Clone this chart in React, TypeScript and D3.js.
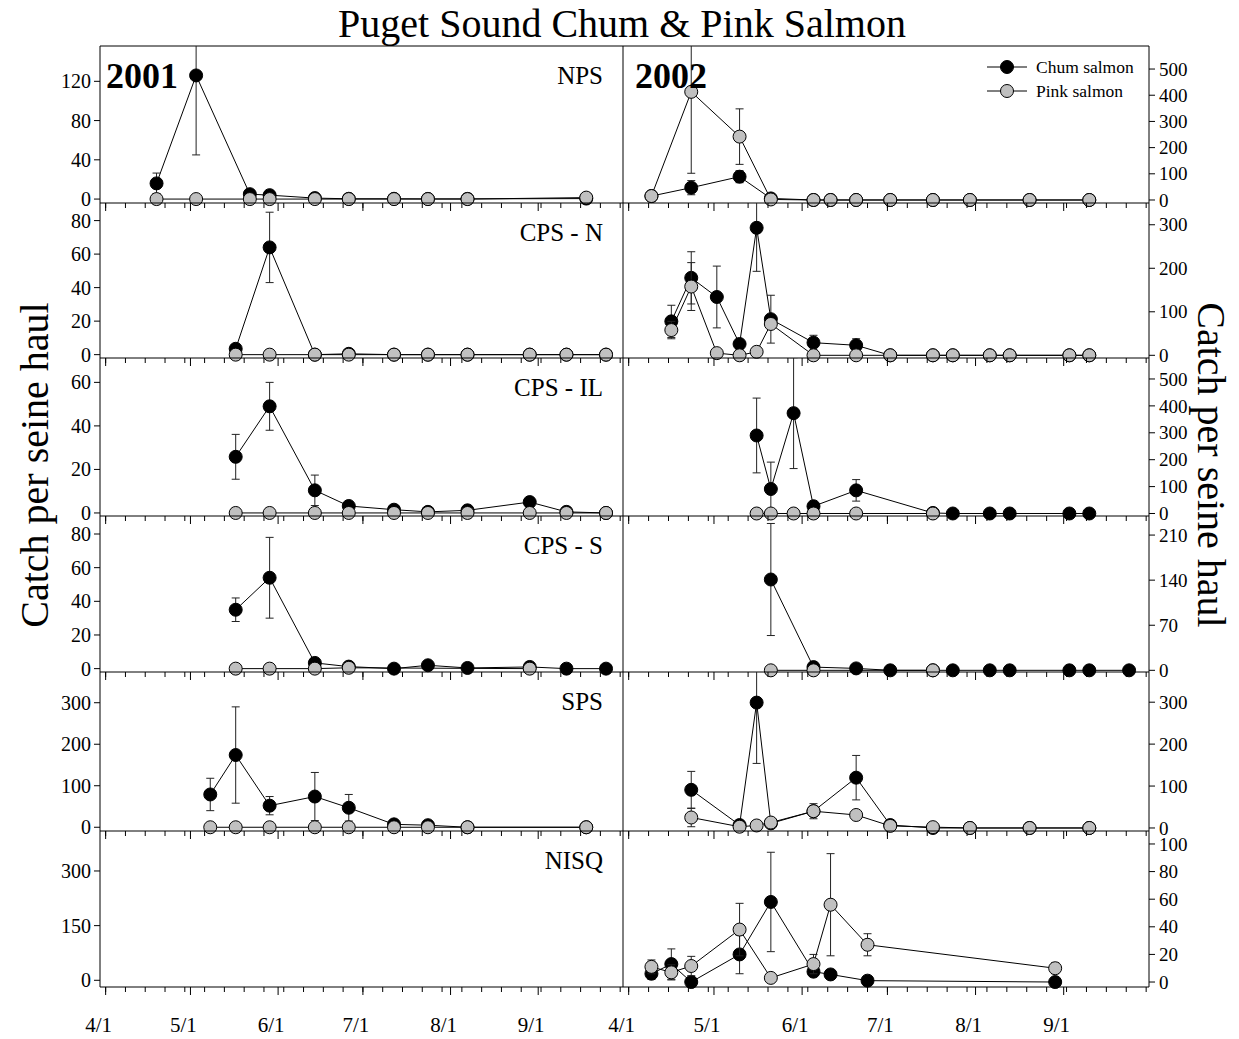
import React from "react";
import * as d3 from "d3";

const FONT = '"Liberation Serif", "Times New Roman", Times, serif';

const titleText = "Puget Sound Chum & Pink Salmon";
const yTitle = "Catch per seine haul";
const regionNames = ["NPS", "CPS - N", "CPS - IL", "CPS - S", "SPS", "NISQ"];
const yearLabels = ["2001", "2002"];
const seriesNames = ["Chum salmon", "Pink salmon"];
const monthTickLabels = ["4/1", "5/1", "6/1", "7/1", "8/1", "9/1"];

const leftTicks = [[0, 40, 80, 120], [0, 20, 40, 60, 80], [0, 20, 40, 60], [0, 20, 40, 60, 80], [0, 100, 200, 300], [0, 150, 300]];
const rightTicks = [[0, 100, 200, 300, 400, 500], [0, 100, 200, 300], [0, 100, 200, 300, 400, 500], [0, 70, 140, 210], [0, 100, 200, 300], [0, 20, 40, 60, 80, 100]];
const leftDomains = [[-4, 156], [-2, 90.5], [-1.4, 71.2], [-2, 90.7], [-9, 374], [-18.4, 409.7]];
const rightDomains = [[-11.5, 588], [-6.2, 350], [-9.3, 578], [-2.6, 239.6], [-7.2, 372], [-3.6, 109.4]];

// ---------- 2001 ----------
const nps01Dates = ["2001-04-19", "2001-05-03", "2001-05-22", "2001-05-29", "2001-06-14", "2001-06-26", "2001-07-12", "2001-07-24", "2001-08-07", "2001-09-18"];
const nps01Chum = [16, 126, 5, 4, 1, 0.3, 0.3, 0.2, 0.2, 0.5];
const nps01ChumSE = [10.5, 81, null, null, null, null, null, null, null, null];
const nps01Pink = [0, 0, 0, 0, 0, 0, 0, 0, 0, 1.5];
const nps01PinkSE = [null, null, null, null, null, null, null, null, null, null];

const cpsn01Dates = ["2001-05-17", "2001-05-29", "2001-06-14", "2001-06-26", "2001-07-12", "2001-07-24", "2001-08-07", "2001-08-29", "2001-09-11", "2001-09-25"];
const cpsn01Chum = [3.5, 64, 0, 0.5, 0, 0, 0, 0, 0, 0];
const cpsn01ChumSE = [null, 21, null, null, null, null, null, null, null, null];
const cpsn01Pink = [0, 0, 0, 0, 0, 0, 0, 0, 0, 0];
const cpsn01PinkSE = [null, null, null, null, null, null, null, null, null, null];

const cpsil01Dates = ["2001-05-17", "2001-05-29", "2001-06-14", "2001-06-26", "2001-07-12", "2001-07-24", "2001-08-07", "2001-08-29", "2001-09-11", "2001-09-25"];
const cpsil01Chum = [25.8, 49, 10.4, 3.2, 1.5, 0.5, 1.2, 5, 0.5, 0];
const cpsil01ChumSE = [10.3, 11, 7, null, null, null, null, null, null, null];
const cpsil01Pink = [0, 0, 0, 0, 0, 0, 0, 0, 0, 0];
const cpsil01PinkSE = [null, null, null, null, null, null, null, null, null, null];

const cpss01Dates = ["2001-05-17", "2001-05-29", "2001-06-14", "2001-06-26", "2001-07-12", "2001-07-24", "2001-08-07", "2001-08-29", "2001-09-11", "2001-09-25"];
const cpss01Chum = [35, 54, 3.4, 1.2, 0, 2, 0.4, 1, 0, 0];
const cpss01ChumSE = [7, 24, null, null, null, null, null, null, null, null];
const cpss01Pink = [0, 0, 0, 0.5, null, null, null, 0, null, null];
const cpss01PinkSE = [null, null, null, null, null, null, null, null, null, null];

const sps01Dates = ["2001-05-08", "2001-05-17", "2001-05-29", "2001-06-14", "2001-06-26", "2001-07-12", "2001-07-24", "2001-08-07", "2001-09-18"];
const sps01Chum = [79, 174, 52, 74, 47, 7, 5, 0, 0];
const sps01ChumSE = [39, 116, 22, 58, 32, null, null, null, null];
const sps01Pink = [0, 0, 0, 0, 0, 0, 0, 0, 0];
const sps01PinkSE = [null, null, null, null, null, null, null, null, null];

const nisq01Dates: string[] = [];
const nisq01Chum: (number | null)[] = [];
const nisq01ChumSE: (number | null)[] = [];
const nisq01Pink: (number | null)[] = [];
const nisq01PinkSE: (number | null)[] = [];

// ---------- 2002 ----------
const nps02Dates = ["2002-04-09", "2002-04-23", "2002-05-10", "2002-05-21", "2002-06-05", "2002-06-11", "2002-06-20", "2002-07-02", "2002-07-17", "2002-07-30", "2002-08-20", "2002-09-10"];
const nps02Chum = [15, 47, 89, 6, 0, 0, 0, 0, 0, 0, 0, 0];
const nps02ChumSE = [null, 27, 23, null, null, null, null, null, null, null, null, null];
const nps02Pink = [15, 413, 242, 2, 0, 0, 0, 0, 0, 0, 0, 0];
const nps02PinkSE = [null, 311, 106, null, null, null, null, null, null, null, null, null];

const cpsn02Dates = ["2002-04-16", "2002-04-23", "2002-05-02", "2002-05-10", "2002-05-16", "2002-05-21", "2002-06-05", "2002-06-20", "2002-07-02", "2002-07-17", "2002-07-24", "2002-08-06", "2002-08-13", "2002-09-03", "2002-09-10"];
const cpsn02Chum = [78, 178, 134, 26, 293, 83, 29, 23, 0, 0, 0, 0, 0, 0, 0];
const cpsn02ChumSE = [37, 60, 71, null, 100, 55, 17, 15, null, null, null, null, null, null, null];
const cpsn02Pink = [58, 158, 5, 0, 8, 72, 0, 0, 0, 0, 0, 0, 0, 0, 0];
const cpsn02PinkSE = [20, 55, null, null, null, null, null, null, null, null, null, null, null, null, null];

const cpsil02Dates = ["2002-05-16", "2002-05-21", "2002-05-29", "2002-06-05", "2002-06-20", "2002-07-17", "2002-07-24", "2002-08-06", "2002-08-13", "2002-09-03", "2002-09-10"];
const cpsil02Chum = [290, 91, 373, 27, 86, 2, 0, 0, 0, 0, 0];
const cpsil02ChumSE = [139, 100, 206, null, 40, null, null, null, null, null, null];
const cpsil02Pink = [0, 0, 0, 0, 0, 0, null, null, null, null, null];
const cpsil02PinkSE = [null, null, null, null, null, null, null, null, null, null, null];

const cpss02Dates = ["2002-05-21", "2002-06-05", "2002-06-20", "2002-07-02", "2002-07-17", "2002-07-24", "2002-08-06", "2002-08-13", "2002-09-03", "2002-09-10", "2002-09-24"];
const cpss02Chum = [141, 5, 3, 0, 0, 0, 0, 0, 0, 0, 0];
const cpss02ChumSE = [87, null, null, null, null, null, null, null, null, null, null];
const cpss02Pink = [0, 0, null, null, 0, null, null, null, null, null, null];
const cpss02PinkSE = [null, null, null, null, null, null, null, null, null, null, null];

const sps02Dates = ["2002-04-23", "2002-05-10", "2002-05-16", "2002-05-21", "2002-06-05", "2002-06-20", "2002-07-02", "2002-07-17", "2002-07-30", "2002-08-20", "2002-09-10"];
const sps02Chum = [91, 7, 299, 11, 40, 120, 7, 0, 0, 0, 0];
const sps02ChumSE = [44, null, 145, null, null, 53, null, null, null, null, null];
const sps02Pink = [25, 3, 6, 13, 40, 31, 5, 2, 0, 0, 0];
const sps02PinkSE = [22, null, null, null, 18, null, null, null, null, null, null];

const nisq02Dates = ["2002-04-09", "2002-04-16", "2002-04-23", "2002-05-10", "2002-05-21", "2002-06-05", "2002-06-11", "2002-06-24", "2002-08-29"];
const nisq02Chum = [6, 13, 0, 20, 58, 7.5, 5.5, 1, 0];
const nisq02ChumSE = [4, 11, null, 14, 36, null, null, null, null];
const nisq02Pink = [11, 7, 11.6, 38, 3, 13, 56, 27, 10];
const nisq02PinkSE = [5, 5.5, 7, 19, null, 7, 37, 8, 4];

type Pt = { date: Date; v: number; se: number | null };
const parse = d3.timeParse("%Y-%m-%d");

function makeSeries(dates: string[], vals: (number | null)[], ses: (number | null)[]): Pt[] {
  const out: Pt[] = [];
  dates.forEach((d, i) => {
    const v = vals[i];
    if (v !== null && v !== undefined) out.push({ date: parse(d) as Date, v, se: ses[i] ?? null });
  });
  return out;
}

const panels2001 = [
  [nps01Dates, nps01Chum, nps01ChumSE, nps01Pink, nps01PinkSE],
  [cpsn01Dates, cpsn01Chum, cpsn01ChumSE, cpsn01Pink, cpsn01PinkSE],
  [cpsil01Dates, cpsil01Chum, cpsil01ChumSE, cpsil01Pink, cpsil01PinkSE],
  [cpss01Dates, cpss01Chum, cpss01ChumSE, cpss01Pink, cpss01PinkSE],
  [sps01Dates, sps01Chum, sps01ChumSE, sps01Pink, sps01PinkSE],
  [nisq01Dates, nisq01Chum, nisq01ChumSE, nisq01Pink, nisq01PinkSE],
] as any[];
const panels2002 = [
  [nps02Dates, nps02Chum, nps02ChumSE, nps02Pink, nps02PinkSE],
  [cpsn02Dates, cpsn02Chum, cpsn02ChumSE, cpsn02Pink, cpsn02PinkSE],
  [cpsil02Dates, cpsil02Chum, cpsil02ChumSE, cpsil02Pink, cpsil02PinkSE],
  [cpss02Dates, cpss02Chum, cpss02ChumSE, cpss02Pink, cpss02PinkSE],
  [sps02Dates, sps02Chum, sps02ChumSE, sps02Pink, sps02PinkSE],
  [nisq02Dates, nisq02Chum, nisq02ChumSE, nisq02Pink, nisq02PinkSE],
] as any[];

// layout
const W = 1239, H = 1039;
const edges = [46, 203, 358, 516, 672, 831, 987];
const xL0 = 100, xMid = 623, xR1 = 1149;
const PINK = "#c0c0c0";
const R = 6.5;

function xScaleFor(year: number, x0: number, x1: number) {
  return d3.scaleTime().domain([new Date(year, 2, 30), new Date(year, 9, 1)]).range([x0, x1]);
}

function PanelData({ pdata, x, y, clipId }: any) {
  const [dates, chum, chumSE, pink, pinkSE] = pdata;
  const sChum = makeSeries(dates, chum, chumSE);
  const sPink = makeSeries(dates, pink, pinkSE);
  const line = d3.line<Pt>().x(d => x(d.date)).y(d => y(d.v));
  const drawSeries = (s: Pt[], fill: string, key: string) => (
    <g key={key}>
      <path d={line(s) || ""} fill="none" stroke="#000" strokeWidth={1} clipPath={`url(#${clipId})`} />
      <g clipPath={`url(#${clipId})`}>
        {s.filter(d => d.se != null).map((d, i) => {
          const cx = x(d.date);
          const yt = y(d.v + (d.se as number));
          const yb = y(d.v - (d.se as number));
          return (
            <g key={i} stroke="#222" strokeWidth={1}>
              <line x1={cx} x2={cx} y1={yt} y2={yb} />
              <line x1={cx - 4} x2={cx + 4} y1={yt} y2={yt} />
              <line x1={cx - 4} x2={cx + 4} y1={yb} y2={yb} />
            </g>
          );
        })}
      </g>
      {s.map((d, i) => (
        <circle key={i} cx={x(d.date)} cy={y(d.v)} r={R} fill={fill} stroke="#000" strokeWidth={1} />
      ))}
    </g>
  );
  return (
    <g>
      {drawSeries(sChum, "#000", "chum")}
      {drawSeries(sPink, PINK, "pink")}
    </g>
  );
}

function XAxis({ x, year, yPos, labels }: any) {
  const [d0, d1] = x.domain();
  const majors = d3.range(3, 9).map(m => new Date(year, m, 1));
  const minors: Date[] = [];
  for (let d = new Date(year, 3, 1); d <= d1; d = d3.timeDay.offset(d, 7)) minors.push(d);
  const [r0, r1] = x.range();
  return (
    <g>
      <line x1={r0} x2={r1} y1={yPos} y2={yPos} stroke="#000" strokeWidth={1} />
      {minors.filter(d => d >= d0).map((d, i) => (
        <line key={"m" + i} x1={x(d)} x2={x(d)} y1={yPos} y2={yPos + 5} stroke="#000" strokeWidth={1} />
      ))}
      {majors.map((d, i) => (
        <line key={"M" + i} x1={x(d)} x2={x(d)} y1={yPos} y2={yPos + 8} stroke="#000" strokeWidth={1} />
      ))}
      {labels &&
        majors.map((d, i) => (
          <text key={"t" + i} x={x(d) - 7} y={1032} textAnchor="middle" fontSize={21} fontFamily={FONT}>
            {monthTickLabels[i]}
          </text>
        ))}
    </g>
  );
}

export default function App() {
  const x01 = xScaleFor(2001, xL0, xMid);
  const x02 = xScaleFor(2002, xMid, xR1);

  return (
    <svg width={W} height={H} style={{ position: "absolute", left: 0, top: 0, background: "#fff" }} fontFamily={FONT}>
      <rect x={0} y={0} width={W} height={H} fill="#fff" />
      <defs>
        {regionNames.map((_, i) => (
          <React.Fragment key={i}>
            <clipPath id={`cl${i}`}>
              <rect x={xL0} y={edges[i]} width={xMid - xL0} height={edges[i + 1] - edges[i]} />
            </clipPath>
            <clipPath id={`cr${i}`}>
              <rect x={xMid} y={edges[i]} width={xR1 - xMid} height={edges[i + 1] - edges[i]} />
            </clipPath>
          </React.Fragment>
        ))}
      </defs>

      <text x={622} y={37} textAnchor="middle" fontSize={40}>{titleText}</text>
      <text transform={`translate(48,465) rotate(-90)`} textAnchor="middle" fontSize={40}>{yTitle}</text>
      <text transform={`translate(1198,465) rotate(90)`} textAnchor="middle" fontSize={40}>{yTitle}</text>

      {/* frame */}
      <line x1={xL0} x2={xR1} y1={edges[0]} y2={edges[0]} stroke="#000" />
      <line x1={xL0} x2={xL0} y1={edges[0]} y2={edges[6]} stroke="#000" />
      <line x1={xMid} x2={xMid} y1={edges[0]} y2={edges[6]} stroke="#000" />
      <line x1={xR1} x2={xR1} y1={edges[0]} y2={edges[6]} stroke="#000" />

      {regionNames.map((name, i) => {
        const top = edges[i], bot = edges[i + 1];
        const yL = d3.scaleLinear().domain(leftDomains[i]).range([bot, top]);
        const yR = d3.scaleLinear().domain(rightDomains[i]).range([bot, top]);
        const last = i === regionNames.length - 1;
        return (
          <g key={name}>
            <PanelData pdata={panels2001[i]} x={x01} y={yL} clipId={`cl${i}`} />
            <PanelData pdata={panels2002[i]} x={x02} y={yR} clipId={`cr${i}`} />
            <XAxis x={x01} year={2001} yPos={bot} labels={last} />
            <XAxis x={x02} year={2002} yPos={bot} labels={last} />
            {leftTicks[i].map(t => (
              <g key={"l" + t}>
                <line x1={xL0 - 6} x2={xL0} y1={yL(t)} y2={yL(t)} stroke="#000" />
                <text x={xL0 - 9} y={yL(t)} dy="0.35em" textAnchor="end" fontSize={20}>{t}</text>
              </g>
            ))}
            {rightTicks[i].map(t => (
              <g key={"r" + t}>
                <line x1={xR1} x2={xR1 + 6} y1={yR(t)} y2={yR(t)} stroke="#000" />
                <text x={xR1 + 10} y={yR(t)} dy="0.35em" textAnchor="start" fontSize={19}>{t}</text>
              </g>
            ))}
            <text x={603} y={top + 38} textAnchor="end" fontSize={25}>{name}</text>
          </g>
        );
      })}

      <text x={106} y={88} fontSize={36} fontWeight="bold">{yearLabels[0]}</text>
      <text x={635} y={88} fontSize={36} fontWeight="bold">{yearLabels[1]}</text>

      {/* legend */}
      {seriesNames.map((s, i) => {
        const ly = 67 + i * 24;
        return (
          <g key={s}>
            <line x1={987} x2={1027} y1={ly} y2={ly} stroke="#000" />
            <circle cx={1007} cy={ly} r={R} fill={i === 0 ? "#000" : PINK} stroke="#000" />
            <text x={1036} y={ly} dy="0.35em" fontSize={17.5}>{s}</text>
          </g>
        );
      })}
    </svg>
  );
}
